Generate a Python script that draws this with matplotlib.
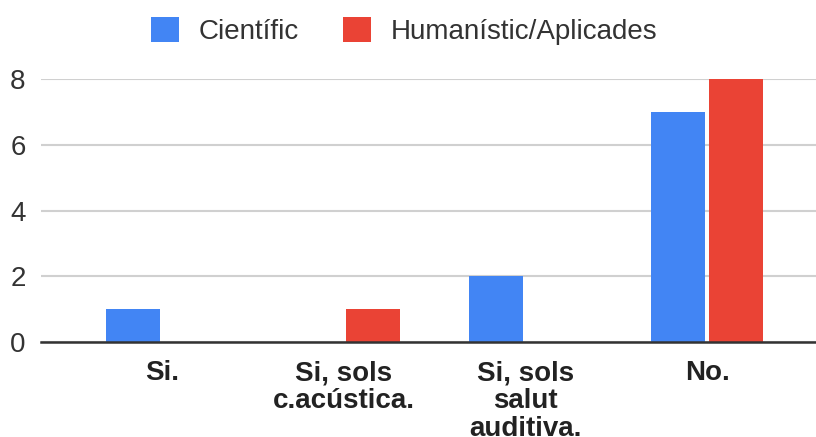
import numpy as np
import matplotlib
matplotlib.use("Agg")
import matplotlib.pyplot as plt
from matplotlib.patches import Patch

# dades
categories = ["Si.", "Si, sols\nc.acústica.", "Si, sols\nsalut\nauditiva.", "No."]
cientific = [1, 0, 2, 7]
humanistic = [0, 1, 0, 8]
series_names = ["Científic", "Humanístic/Aplicades"]
yticks = [0, 2, 4, 6, 8]

blue = "#4285F4"
red = "#EA4335"

plt.rcParams["font.family"] = ["Liberation Sans", "DejaVu Sans"]

fig = plt.figure(figsize=(8.16, 4.37), dpi=100)
ax = fig.add_axes([41 / 816, 1 - 342 / 437, 1 - 41 / 816, (342 - 79) / 437])

x = np.arange(len(categories))
w = 0.297
off = 0.16
ax.bar(x - off, cientific, width=w, color=blue, zorder=3)
ax.bar(x + off, humanistic, width=w, color=red, zorder=3)

ax.set_xlim(-0.667, 3.6)
ax.set_ylim(0, 8)
ax.set_yticks(yticks)
ax.set_xticks(x)
ax.set_xticklabels(categories, fontsize=20, fontweight="bold", color="#222222",
                   linespacing=1.1, va="top")
ax.tick_params(axis="x", length=0, pad=13)
ax.tick_params(axis="y", length=0, pad=11, labelsize=20, labelcolor="#333333")

ax.grid(axis="y", color="#d0d0d0", linewidth=1.5, zorder=0)
for s in ["top", "right", "left"]:
    ax.spines[s].set_visible(False)
ax.spines["bottom"].set_color("#333333")
ax.spines["bottom"].set_linewidth(1.8)
ax.spines["bottom"].set_zorder(4)

handles = [Patch(facecolor=blue), Patch(facecolor=red)]
fig.legend(handles, series_names, loc="center", bbox_to_anchor=(404 / 816, 1 - 31 / 437),
           ncol=2, frameon=False, fontsize=20, handlelength=1.0, handleheight=1.0,
           handletextpad=0.7, columnspacing=1.6, labelcolor="#333333")

fig.savefig("out.png", dpi=100)
